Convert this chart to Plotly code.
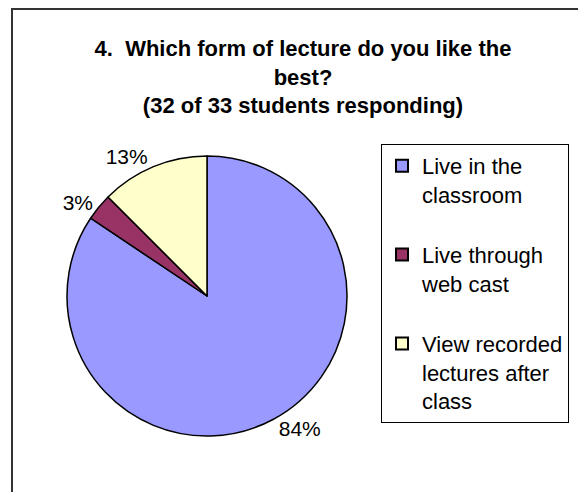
import plotly.graph_objects as go

# responses (32 of 33 students)
labels = ['Live in the<br>classroom<br> ', 'Live through<br>web cast<br> ', 'View recorded<br>lectures after<br>class']
counts = [27, 1, 4]
colors = ['#9999FF', '#993366', '#FFFFCC']

W, H = 586, 492
OFF = 8  # page body margin shifts the figure by 8px


def px(x):
    return (x - OFF) / W


def py(y):
    return 1 - (y - OFF) / H


fig = go.Figure(go.Pie(
    labels=labels,
    values=counts,
    sort=False,
    direction='clockwise',
    rotation=0,
    marker=dict(colors=colors, line=dict(color='black', width=1.5)),
    texttemplate='%{percent:.0%}',
    textposition='outside',
    textfont=dict(family='Liberation Sans', size=21, color='black'),
    domain=dict(x=[px(67), px(347)], y=[py(436), py(156)]),
    automargin=False,
    hoverinfo='label+percent',
))

fig.update_layout(
    width=W, height=H,
    margin=dict(l=0, r=0, t=0, b=0),
    paper_bgcolor='white',
    font=dict(family='Liberation Sans', color='black'),
    title=dict(
        text='<b>4.  Which form of lecture do you like the<br>best?<br>(32 of 33 students responding)</b>',
        x=px(303), xanchor='center',
        y=py(56), yanchor='top',
        font=dict(size=22, family='Liberation Sans'),
    ),
    legend=dict(
        x=px(381), y=py(144), xanchor='left', yanchor='top',
        bordercolor='black', borderwidth=1,
        font=dict(size=22, family='Liberation Sans'),
        valign='top',
        itemsizing='constant',
    ),
    shapes=[dict(type='rect', xref='paper', yref='paper',
                 x0=px(12), x1=1.2, y0=-0.2, y1=py(9),
                 line=dict(color='#333333', width=2))],
)

fig.write_html('out.html')
